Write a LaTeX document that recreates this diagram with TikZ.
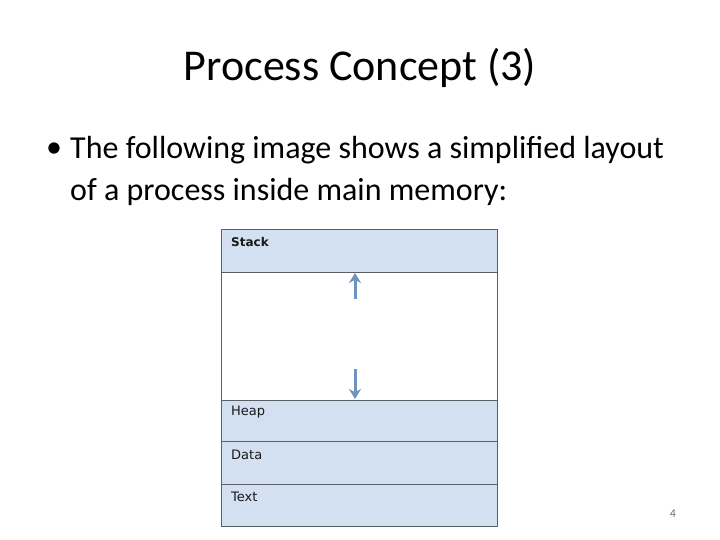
\documentclass[tikz,border=0pt]{standalone}
\usepackage{fontspec}
\setmainfont{Carlito}
\newfontfamily\labelfont{DejaVu Sans}
\usetikzlibrary{arrows.meta}
\definecolor{cellblue}{HTML}{D3E0F1}
\definecolor{cellline}{HTML}{5A5F66}
\definecolor{arrowblue}{HTML}{6F93C0}
\begin{document}
\begin{tikzpicture}[x=1pt,y=-1pt,
  cell/.style={draw=cellline,line width=1pt,fill=cellblue},
  celllabel/.style={anchor=west,inner sep=0pt,font=\labelfont\fontsize{13}{15}\selectfont,text=black!90},
  growarrow/.style={draw=arrowblue,line width=3pt,-{Stealth[length=10pt,width=12pt]}}]
\useasboundingbox (0,0) rectangle (720,540);
\fill[white] (0,0) rectangle (720,540);
% title
\node[font=\fontsize{44}{52}\selectfont] (title) at (360,68) {Process Concept (3)};
% bullet
\node[anchor=west,inner sep=0pt,font=\fontsize{32}{38}\selectfont] (bul) at (46,150) {\textbullet};
\node[anchor=west,inner sep=0pt,font=\fontsize{32}{38}\selectfont] (line1) at (70,150) {The following image shows a simplified layout};
\node[anchor=west,inner sep=0pt,font=\fontsize{32}{38}\selectfont] (line2) at (70,192) {of a process inside main memory:};
% memory layout
\draw[draw=cellline,line width=1pt,fill=white] (221,272) rectangle (497,400);
\draw[cell] (221,230) rectangle (497,272);
\draw[cell] (221,400) rectangle (497,441);
\draw[cell] (221,441) rectangle (497,484);
\draw[cell] (221,484) rectangle (497,526);
\node[celllabel,font=\labelfont\bfseries\fontsize{12}{14}\selectfont] (stack) at (231,242) {Stack};
\node[celllabel] (heap) at (231,412) {Heap};
\node[celllabel] (data) at (231,455) {Data};
\node[celllabel] (text) at (231,497) {Text};
\coordinate (upS) at (355,299);
\coordinate (upE) at (355,273);
\coordinate (dnS) at (355,369);
\coordinate (dnE) at (355,399);
\draw[growarrow] (upS) -- (upE);
\draw[growarrow] (dnS) -- (dnE);
% page number
\node[font=\fontsize{12}{14}\selectfont,text=black!55] (pg) at (673,514) {4};
\end{tikzpicture}
\end{document}
